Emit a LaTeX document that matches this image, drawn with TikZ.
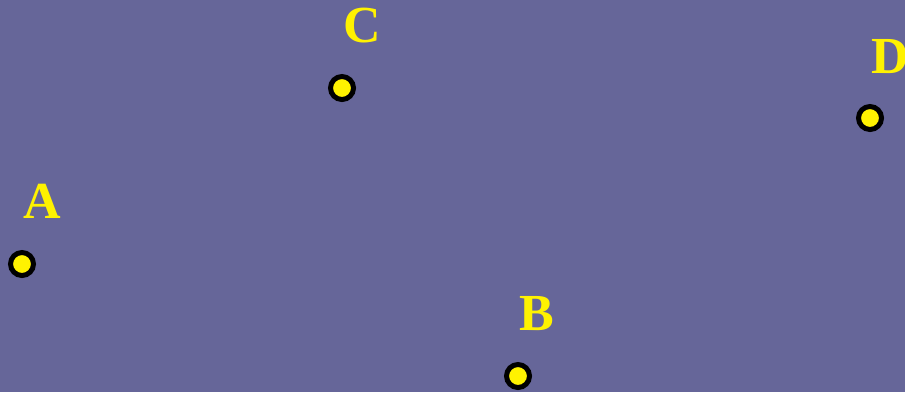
\documentclass[tikz,border=0pt]{standalone}
\usepackage{fontspec}
\setmainfont{Liberation Serif}
\usetikzlibrary{positioning}
\definecolor{bgblue}{HTML}{666699}
\tikzset{
  pt/.style={circle, draw=black, fill=yellow, line width=5pt, minimum size=23pt, inner sep=0pt},
  lab/.style={text=yellow, inner sep=0pt, font=\fontsize{52}{52}\selectfont\bfseries}
}
\begin{document}
\begin{tikzpicture}[x=1pt, y=-1pt]
		\fill[bgblue] (0,0) rectangle (905,392);
		\useasboundingbox (0,0) rectangle (905,392);
		\node[pt] (a) at (22,264) {};
		\node[pt] (b) at (518,376) {};
		\node[pt] (c) at (342,88) {};
		\node[pt] (d) at (870,118) {};
		\node[lab] (la) at (42,201) {A};
		\node[lab] (lb) at (537,314) {B};
		\node[lab] (lc) at (362,26) {C};
		\node[lab] (ld) at (890,57) {D};
	\end{tikzpicture}
\end{document}
